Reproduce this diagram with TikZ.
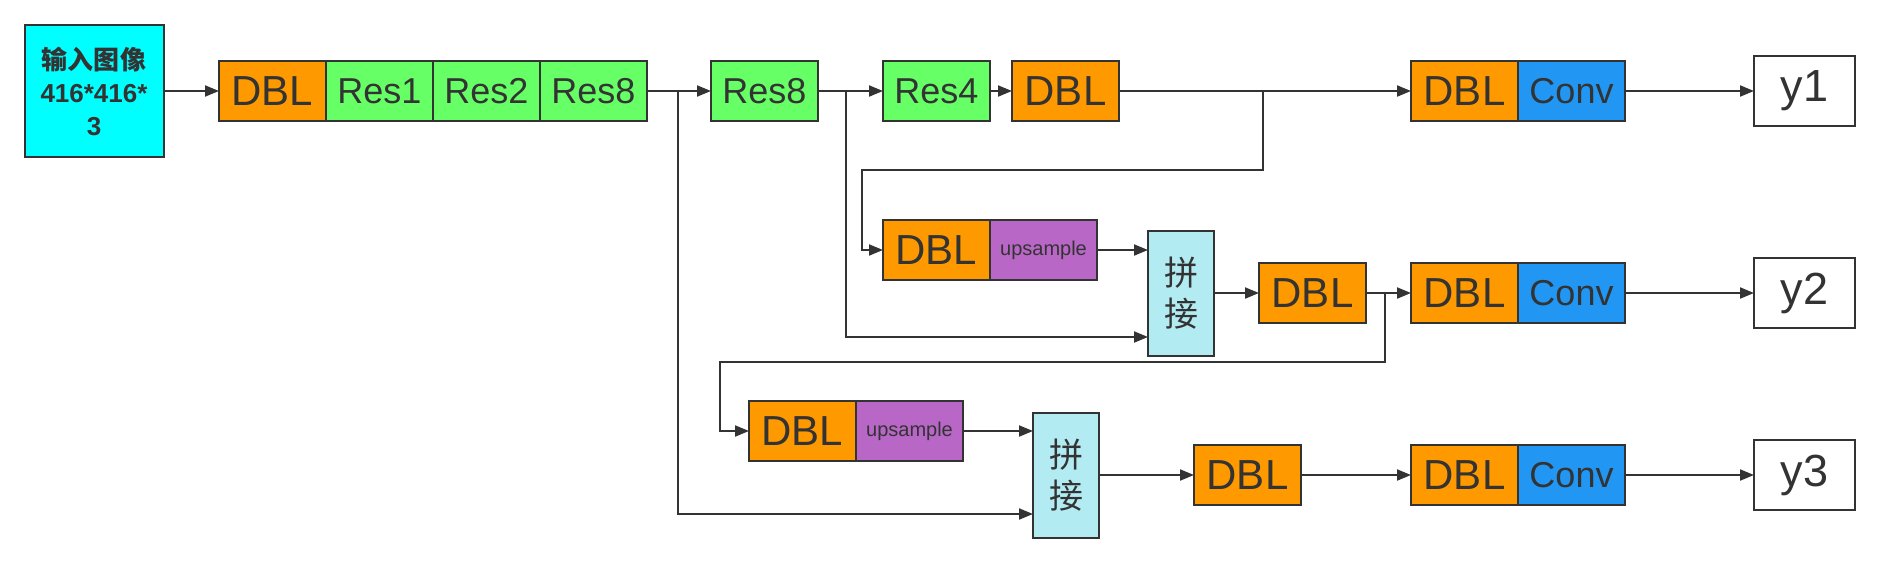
\documentclass[tikz,border=0pt]{standalone}
\usepackage{fontspec}
\setmainfont{Liberation Sans}
\newfontfamily\cjk{Noto Sans CJK SC}
\usetikzlibrary{arrows.meta}
\usetikzlibrary{calc}
\usetikzlibrary{positioning}

\definecolor{linegray}{HTML}{333333}
\definecolor{dblorange}{HTML}{FF9900}
\definecolor{resgreen}{HTML}{66FF66}
\definecolor{convblue}{HTML}{2196F3}
\definecolor{uppurple}{HTML}{B967C7}
\definecolor{catcyan}{HTML}{B2EBF2}
\definecolor{incyan}{HTML}{00FFFF}

\tikzset{
  blk/.style={draw=linegray, line width=2pt, text=linegray, inner sep=0pt, outer sep=0pt, minimum width=107pt, minimum height=60pt},
  dblblk/.style={blk, fill=dblorange, font=\fontsize{42}{48}\selectfont},
  resblk/.style={blk, fill=resgreen, font=\fontsize{36}{42}\selectfont},
  convblk/.style={blk, fill=convblue, font=\fontsize{36}{42}\selectfont},
  upblk/.style={blk, fill=uppurple, font=\fontsize{20}{24}\selectfont},
  catblk/.style={blk, fill=catcyan, minimum width=66pt, minimum height=125pt, align=center, font=\cjk\fontsize{34}{41}\selectfont},
  outblk/.style={blk, fill=white, minimum width=101pt, minimum height=70pt, font=\fontsize{45}{50}\selectfont},
  inblk/.style={blk, fill=incyan, minimum width=139pt, minimum height=132pt, align=center, font=\bfseries\fontsize{26}{33}\selectfont}
}

\begin{document}
\begin{tikzpicture}[x=1pt, y=-1pt, color=linegray, line width=2pt, >={Triangle[length=14pt,width=11pt]}]

    \useasboundingbox (0,0) rectangle (1879,562);

    \coordinate (s1) at (678,91);
    \coordinate (s2) at (846,91);
    \coordinate (s3) at (1263,91);
    \coordinate (s4) at (1385,293);
    \coordinate (k1) at (862,170);
    \coordinate (k2) at (720,362);

    \node[inblk] (in) at (94,91) {{\cjk 输入图像}\\416*416*\\3};

    \node[dblblk, anchor=west] (bbdbl) at (219,91) {DBL};
    \node[resblk, right=0pt of bbdbl] (bbres1) {Res1};
    \node[resblk, right=0pt of bbres1] (bbres2) {Res2};
    \node[resblk, right=0pt of bbres2] (bbres8) {Res8};
    \node[resblk, right=64pt of bbres8] (res8b) {Res8};
    \node[resblk, right=65pt of res8b] (res4) {Res4};
    \node[dblblk, right=22pt of res4] (dbl1) {DBL};
    \node[dblblk, anchor=west] (dblc1) at (1411,91) {DBL};
    \node[convblk, right=0pt of dblc1] (conv1) {Conv};
    \node[outblk, anchor=west] (y1) at (1754,91) {y1};

    \node[dblblk, anchor=west] (dblu2) at (883,250) {DBL};
    \node[upblk, right=0pt of dblu2] (up2) {upsample};
    \node[catblk, anchor=west] (cat1) at (1148,293) {拼\\接};
    \node[dblblk, right=45pt of cat1] (dbl2) {DBL};
    \node[dblblk, anchor=west] (dblc2) at (1411,293) {DBL};
    \node[convblk, right=0pt of dblc2] (conv2) {Conv};
    \node[outblk, anchor=west] (y2) at (1754,293) {y2};

    \node[dblblk, anchor=west] (dblu3) at (749,431) {DBL};
    \node[upblk, right=0pt of dblu3] (up3) {upsample};
    \node[catblk, anchor=west] (cat2) at (1033,475) {拼\\接};
    \node[dblblk, right=95pt of cat2] (dbl3) {DBL};
    \node[dblblk, anchor=west] (dblc3) at (1411,475) {DBL};
    \node[convblk, right=0pt of dblc3] (conv3) {Conv};
    \node[outblk, anchor=west] (y3) at (1754,475) {y3};

    \draw[->] (in) -- (bbdbl);
    \draw[->] (bbres8) -- (res8b);
    \draw[->] (s1) |- ($(cat2.west)+(0,39)$);
    \draw[->] (res8b) -- (res4);
    \draw[->] (s2) |- ($(cat1.west)+(0,44)$);
    \draw[->] (res4) -- (dbl1);
    \draw[->] (dbl1) -- (dblc1);
    \draw[->] (s3) |- (k1) |- (dblu2.west);
    \draw[->] (conv1) -- (y1);

    \draw[->] (up2) -- (up2 -| cat1.west);
    \draw[->] (cat1) -- (dbl2);
    \draw[->] (dbl2) -- (dblc2);
    \draw[->] (s4) |- (k2) |- (dblu3.west);
    \draw[->] (conv2) -- (y2);

    \draw[->] (up3) -- (up3 -| cat2.west);
    \draw[->] (cat2) -- (dbl3);
    \draw[->] (dbl3) -- (dblc3);
    \draw[->] (conv3) -- (y3);

\end{tikzpicture}
\end{document}
